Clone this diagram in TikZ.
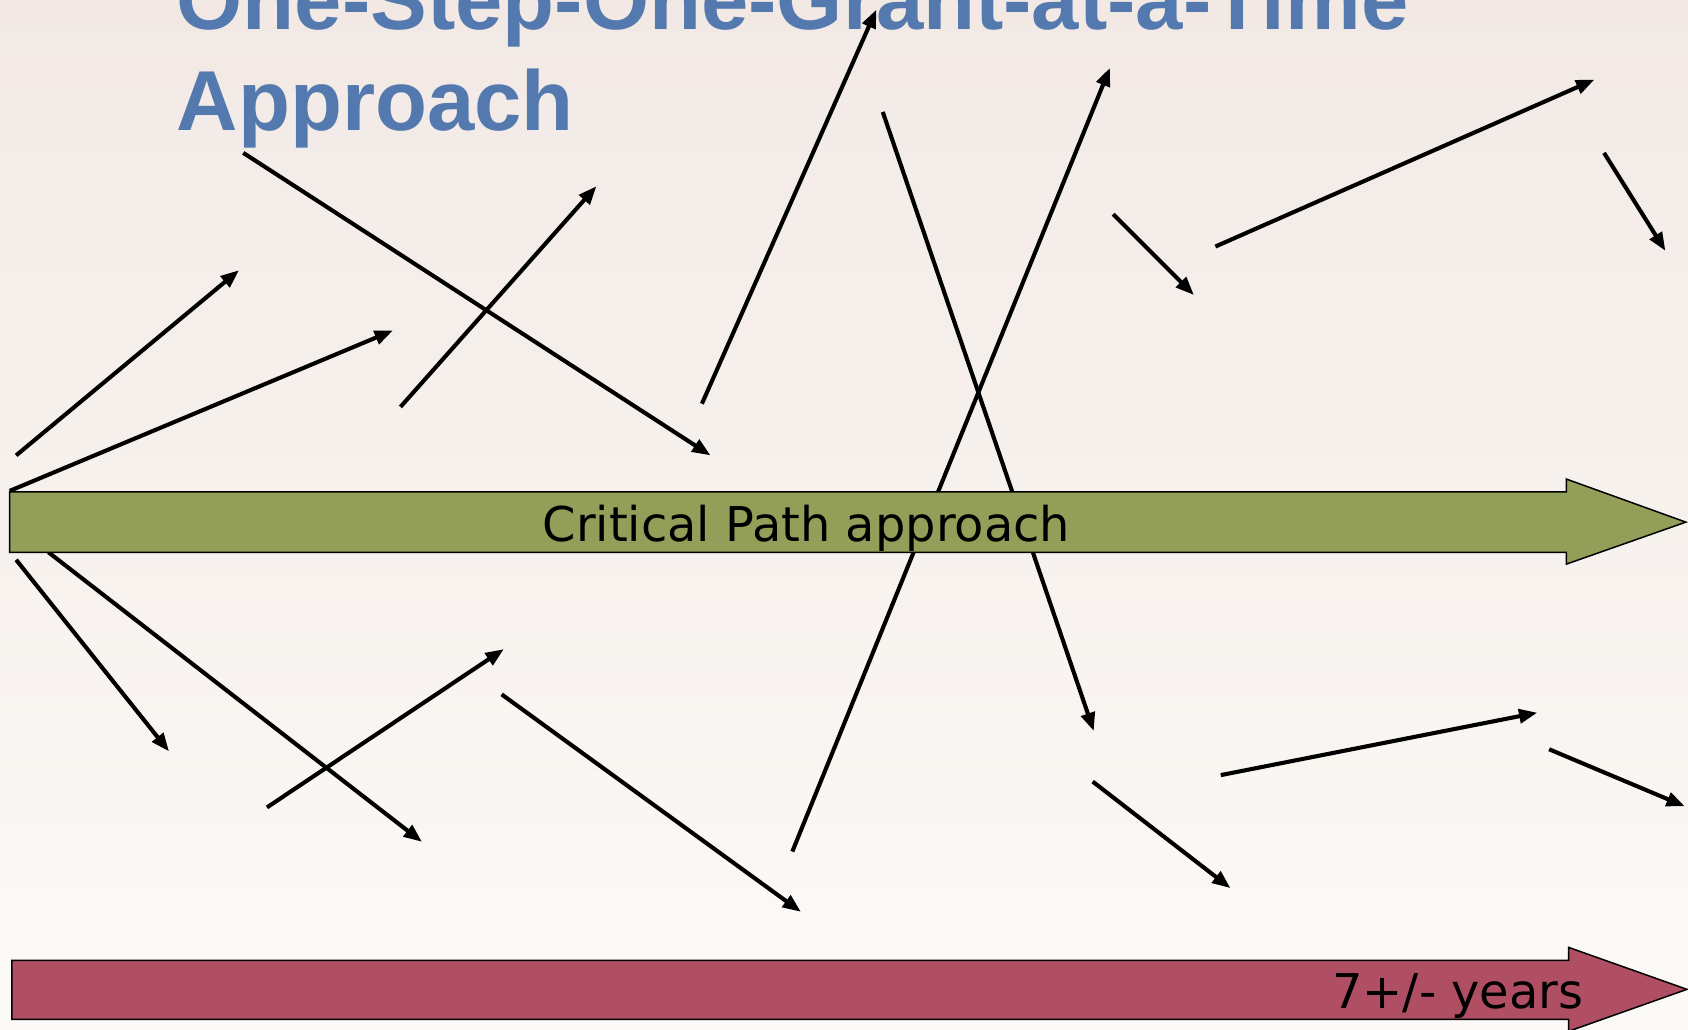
\documentclass[tikz,border=0pt]{standalone}
\usepackage{fontspec}
\setmainfont{Liberation Sans}
\newfontfamily\barfont{DejaVu Sans}
\usetikzlibrary{arrows.meta}
\definecolor{bgtop}{RGB}{242,233,229}
\definecolor{bgbot}{RGB}{252,250,247}
\definecolor{titleblue}{RGB}{84,121,174}
\definecolor{barGreen}{RGB}{147,159,88}
\definecolor{barRed}{RGB}{176,78,100}
\tikzset{
  arr/.style={line width=3.8pt, -{Triangle[length=17pt,width=13pt]}},
  bigbar/.style={draw=black, line width=1.4pt},
  titletext/.style={text=titleblue, font=\bfseries\fontsize{79}{94}\selectfont, inner sep=0pt, anchor=base west},
  bartext/.style={font=\barfont\fontsize{44.5}{50}\selectfont, inner sep=0pt, text=black}
}
\begin{document}
\begin{tikzpicture}[x=1pt,y=-1pt]
\useasboundingbox (0,0) rectangle (1568,956);
\shade[top color=bgtop, bottom color=bgbot] (0,0) rectangle (1568,956);
% title
\node[titletext] (t1) at (164,27) {One-Step-One-Grant-at-a-Time};
\node[titletext] (t2) at (164,121) {Approach};
% arrows
\draw[arr] (15,423) -- (222,251);
\draw[arr] (9,456) -- (365,307);
\draw[arr] (372,378) -- (554,173);
\draw[arr] (226,142) -- (660,423);
\draw[arr] (652,375) -- (814,9);
\draw[arr] (820,104) -- (1016,679);
\draw[arr] (736,791) -- (1031,63);
\draw[arr] (1034,199) -- (1109,274);
\draw[arr] (1129,229) -- (1481,74);
\draw[arr] (1490,142) -- (1547,233);
\draw[arr] (15,520) -- (157,698);
\draw[arr] (45,513) -- (392,782);
\draw[arr] (248,750) -- (468,603);
\draw[arr] (466,645) -- (744,847);
\draw[arr] (1015,726) -- (1143,825);
\draw[arr] (1134,720) -- (1428,662);
\draw[arr] (1439,696) -- (1565,749);
% green bar
\draw[bigbar, fill=barGreen] (9,457) -- (1455,457) -- (1455,445) -- (1566,485) -- (1455,524) -- (1455,513) -- (9,513) -- cycle;
\node[bartext, anchor=base] (cp) at (749,503) {Critical Path approach};
% red bar
\draw[bigbar, fill=barRed] (11,892) -- (1457,892) -- (1457,880) -- (1567,919) -- (1457,958) -- (1457,947) -- (11,947) -- cycle;
\node[bartext, anchor=base east] (yr) at (1471,937) {7+/- years};
\end{tikzpicture}
\end{document}
